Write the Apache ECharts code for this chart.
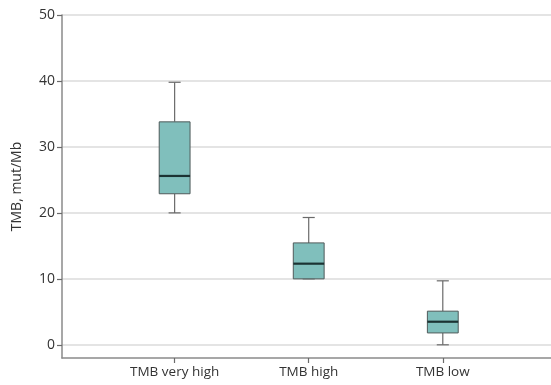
<!DOCTYPE html>
<html>
<head>
<meta charset="utf-8">
<script src="https://cdn.jsdelivr.net/npm/echarts@6/dist/echarts.min.js"></script>
<style>html,body{margin:0;padding:0;background:#fff}#c{width:551px;height:385px}</style>
</head>
<body>
<div id="c"></div>
<script>
const categories = ['TMB very high', 'TMB high', 'TMB low'];
const positions = [1, 2, 3];
const whiskerMin = [20.0, 10.0, 0.0];
const q1 = [22.9, 10.0, 1.8];
const median = [25.6, 12.3, 3.5];
const q3 = [33.8, 15.45, 5.1];
const whiskerMax = [39.8, 19.3, 9.7];
const yTicks = [0, 10, 20, 30, 40, 50];

const data = positions.map((p, i) => [p, whiskerMin[i], q1[i], median[i], q3[i], whiskerMax[i]]);

const FONT = 'Open Sans';
const chart = echarts.init(document.getElementById('c'), null, {renderer: 'canvas'});
chart.setOption({
  animation: false,
  backgroundColor: '#fff',
  grid: {left: 62, right: -3, top: 15, bottom: 27, containLabel: false},
  xAxis: {
    type: 'value', min: 0.16, max: 3.807,
    axisLine: {show: true, onZero: false, lineStyle: {color: '#8a8a8a', width: 1.5}},
    axisTick: {show: true, length: 5, customValues: positions, lineStyle: {color: '#6a6a6a', width: 1.2}},
    axisLabel: {customValues: positions, formatter: v => categories[positions.indexOf(v)] || '',
      color: '#333', fontFamily: FONT, fontSize: 13.5, margin: 7},
    splitLine: {show: false}
  },
  yAxis: {
    type: 'value', min: -2, max: 50,
    name: 'TMB, mut/Mb', nameLocation: 'middle', nameGap: 38, nameRotate: 90,
    nameTextStyle: {color: '#333', fontFamily: FONT, fontSize: 14},
    axisLine: {show: true, onZero: false, lineStyle: {color: '#8a8a8a', width: 1.5}},
    axisTick: {show: true, length: 5, customValues: yTicks, lineStyle: {color: '#6a6a6a', width: 1.2}},
    axisLabel: {customValues: yTicks, color: '#333', fontFamily: FONT, fontSize: 14, margin: 7},
    splitLine: {show: true, lineStyle: {color: '#e4e4e4', width: 2}}
  },
  series: [{
    type: 'custom',
    data: data,
    encode: {x: 0, y: [1, 2, 3, 4, 5]},
    renderItem: function (params, api) {
      const x = api.value(0);
      const vMin = api.value(1), vQ1 = api.value(2), vMed = api.value(3), vQ3 = api.value(4), vMax = api.value(5);
      const bw = 0.115, cw = 0.045;
      const pMin = api.coord([x, vMin]), pQ1 = api.coord([x, vQ1]), pMed = api.coord([x, vMed]);
      const pQ3 = api.coord([x, vQ3]), pMax = api.coord([x, vMax]);
      const left = api.coord([x - bw, vQ1])[0], right = api.coord([x + bw, vQ1])[0];
      const cl = api.coord([x - cw, vQ1])[0], cr = api.coord([x + cw, vQ1])[0];
      const wStyle = {stroke: '#6a6a6a', lineWidth: 1.2};
      return {
        type: 'group',
        children: [
          {type: 'line', shape: {x1: pMax[0], y1: pMax[1], x2: pQ3[0], y2: pQ3[1]}, style: wStyle},
          {type: 'line', shape: {x1: pMin[0], y1: pMin[1], x2: pQ1[0], y2: pQ1[1]}, style: wStyle},
          {type: 'line', shape: {x1: cl, y1: pMax[1], x2: cr, y2: pMax[1]}, style: wStyle},
          {type: 'line', shape: {x1: cl, y1: pMin[1], x2: cr, y2: pMin[1]}, style: wStyle},
          {type: 'rect', shape: {x: left, y: pQ3[1], width: right - left, height: pQ1[1] - pQ3[1]},
            style: {fill: '#80bfbc', stroke: '#4f5a5a', lineWidth: 1}},
          {type: 'line', shape: {x1: left, y1: pMed[1], x2: right, y2: pMed[1]},
            style: {stroke: '#1c3333', lineWidth: 2.2}}
        ]
      };
    }
  }]
});
</script>
</body>
</html>
